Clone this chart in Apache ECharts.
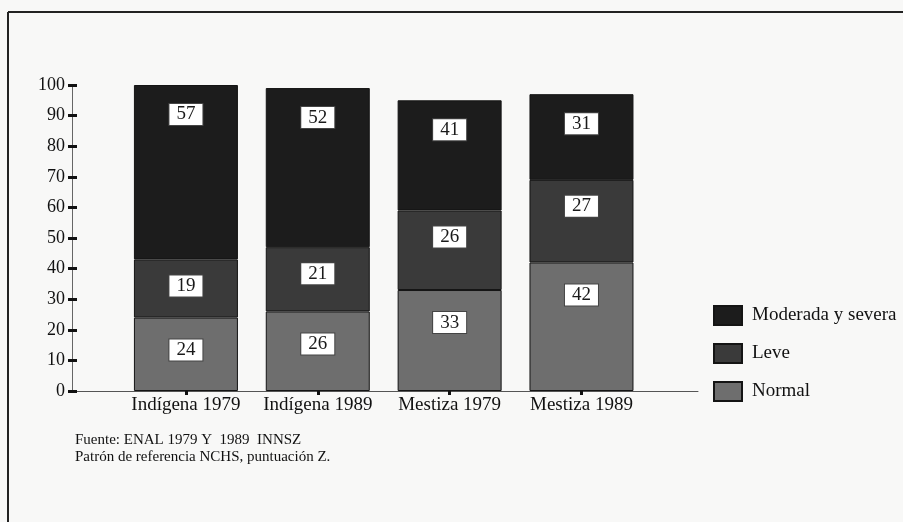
<!DOCTYPE html>
<html>
<head>
<meta charset="utf-8">
<script src="https://cdn.jsdelivr.net/npm/echarts@6/dist/echarts.min.js"></script>
<style>
html,body{margin:0;padding:0;background:#f8f8f7;}
#chart{width:903px;height:522px;}
</style>
</head>
<body>
<div id="chart"></div>
<script>
// ---- data ----
const categories = ['Indígena 1979', 'Indígena 1989', 'Mestiza 1979', 'Mestiza 1989'];
const seriesNames = ['Normal', 'Leve', 'Moderada y severa'];
// segment heights as drawn in the picture
const normalValues = [24, 26, 33, 42];
const leveValues = [19, 21, 26, 27];
const moderadaValues = [57, 52, 36, 28];
// numbers printed in the boxes
const normalLabels = [24, 26, 33, 42];
const leveLabels = [19, 21, 26, 27];
const moderadaLabels = [57, 52, 41, 31];
const footnotes = ['Fuente: ENAL 1979 Y  1989  INNSZ', 'Patrón de referencia NCHS, puntuación Z.'];

const FONT = '"Liberation Serif", "DejaVu Serif", serif';

function mkSeries(name, values, labels, color, dist) {
  return {
    name: name,
    type: 'bar',
    stack: 'total',
    barWidth: 104,
    xAxisIndex: 0,
    yAxisIndex: 0,
    data: values,
    itemStyle: { color: color, borderColor: '#141414', borderWidth: 1 },
    label: {
      show: true,
      position: 'insideTop',
      distance: dist,
      formatter: p => String(labels[p.dataIndex]),
      fontFamily: FONT,
      fontSize: 19,
      color: '#1a1a1a',
      backgroundColor: '#ffffff',
      borderColor: '#444',
      borderWidth: 1,
      padding: [1, 7, 1, 7],
      lineHeight: 19
    },
    emphasis: { disabled: true }
  };
}

const chart = echarts.init(document.getElementById('chart'));
chart.setOption({
  animation: false,
  backgroundColor: '#f8f8f7',
  textStyle: { fontFamily: FONT },
  grid: [
    { left: 120, right: 255.6, top: 85, bottom: 131, containLabel: false },
    { left: 72, right: 205, top: 85, bottom: 131, containLabel: false }
  ],
  xAxis: [
    {
      type: 'category',
      gridIndex: 0,
      data: categories,
      boundaryGap: true,
      axisLine: { show: false },
      axisTick: { show: true, alignWithLabel: true, interval: 0, length: 4, lineStyle: { color: '#111', width: 3 } },
      axisLabel: { interval: 0, margin: 5, fontFamily: FONT, fontSize: 19, color: '#111' }
    },
    {
      type: 'value',
      gridIndex: 1,
      min: 0, max: 1,
      splitLine: { show: false },
      axisLine: { show: true, onZero: false, lineStyle: { color: '#555', width: 1 } },
      axisTick: { show: false },
      axisLabel: { show: false }
    }
  ],
  yAxis: [
    {
      type: 'value', gridIndex: 0, min: 0, max: 100, interval: 10, position: 'left', offset: 48,
      splitLine: { show: false },
      axisLine: { show: true, onZero: false, lineStyle: { color: '#666', width: 1 } },
      axisTick: { show: true, inside: false, length: 4, lineStyle: { color: '#111', width: 3 } },
      axisLabel: { margin: 7, fontFamily: FONT, fontSize: 18, color: '#111' }
    },
    {
      type: 'value', gridIndex: 0, min: 0, max: 100, interval: 10, position: 'left', offset: 48,
      splitLine: { show: false },
      axisLine: { show: false, onZero: false },
      axisTick: { show: true, inside: true, length: 5, lineStyle: { color: '#111', width: 3 } },
      axisLabel: { show: false }
    },
    {
      type: 'value', gridIndex: 1, min: 0, max: 100, show: false
    }
  ],
  legend: {
    orient: 'vertical',
    left: 708,
    top: 300,
    itemWidth: 28,
    itemHeight: 19,
    itemGap: 17,
    icon: 'rect',
    data: ['Moderada y severa', 'Leve', 'Normal'],
    textStyle: { fontFamily: FONT, fontSize: 19, color: '#111', padding: [0, 0, 0, 5] },
    selectedMode: false
  },
  title: [
    { text: footnotes[0], left: 70, top: 428, textStyle: { fontFamily: FONT, fontSize: 15, fontWeight: 'normal', color: '#111' } },
    { text: footnotes[1], left: 70, top: 445, textStyle: { fontFamily: FONT, fontSize: 15, fontWeight: 'normal', color: '#111' } }
  ],
  graphic: [
    { type: 'line', shape: { x1: 8, y1: 12, x2: 903, y2: 12 }, style: { stroke: '#222', lineWidth: 2 }, silent: true },
    { type: 'line', shape: { x1: 8, y1: 12, x2: 8, y2: 522 }, style: { stroke: '#222', lineWidth: 2 }, silent: true }
  ],
  series: [
    mkSeries(seriesNames[0], normalValues, normalLabels, '#6e6e6e', 22),
    mkSeries(seriesNames[1], leveValues, leveLabels, '#3a3a3a', 16),
    mkSeries(seriesNames[2], moderadaValues, moderadaLabels, '#1c1c1c', 19)
  ]
});
</script>
</body>
</html>
